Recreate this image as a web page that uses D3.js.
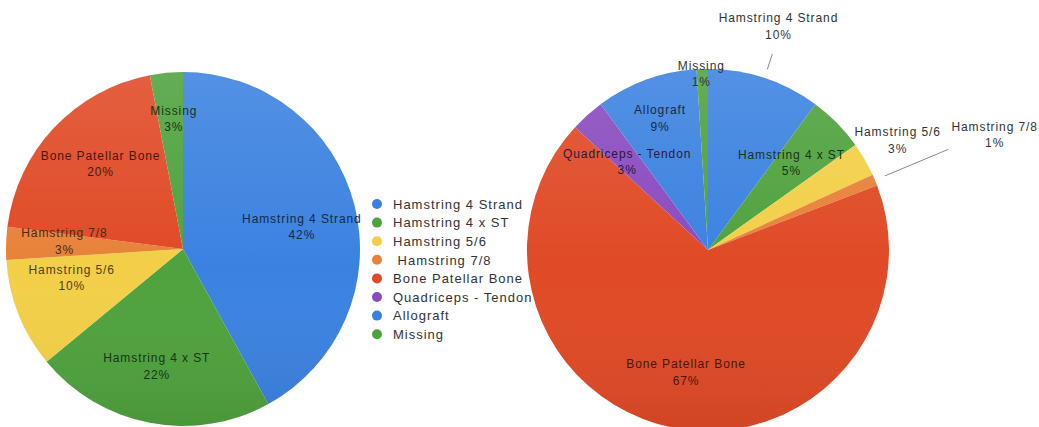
<!DOCTYPE html>
<html>
<head>
<meta charset="utf-8">
<script src="https://cdn.jsdelivr.net/npm/d3@7"></script>
<style>
  html, body { margin: 0; padding: 0; background: #ffffff; }
  svg { display: block; }
  text { font-family: "Liberation Sans", Arial, Helvetica, sans-serif; white-space: pre; }
</style>
</head>
<body>
<svg id="chart" width="1039" height="427"></svg>
<script>
// Graft types shared by both charts (legend order)
const categories = ["Hamstring 4 Strand", "Hamstring 4 x ST", "Hamstring 5/6", "Hamstring 7/8",
                    "Bone Patellar Bone", "Quadriceps - Tendon", "Allograft", "Missing"];
const legendLabels = ["Hamstring 4 Strand", "Hamstring 4 x ST", "Hamstring 5/6", " Hamstring 7/8",
                      "Bone Patellar Bone", "Quadriceps - Tendon", "Allograft", "Missing"];
const categoryColors = ["#3b82e0", "#4fa23e", "#f3cf48", "#e8823a",
                        "#e04a26", "#8a4bbf", "#3b82e0", "#4fa23e"];

// Left chart: percentage by graft type
const leftCategories = ["Hamstring 4 Strand", "Hamstring 4 x ST", "Hamstring 5/6", "Hamstring 7/8",
                        "Bone Patellar Bone", "Missing"];
const leftValues = [42, 22, 10, 3, 20, 3];

// Right chart: percentage by graft type
const rightCategories = ["Hamstring 4 Strand", "Hamstring 4 x ST", "Hamstring 5/6", "Hamstring 7/8",
                         "Bone Patellar Bone", "Quadriceps - Tendon", "Allograft", "Missing"];
const rightValues = [10, 5, 3, 1, 67, 3, 9, 1];

const color = d3.scaleOrdinal(categories, categoryColors);
const svg = d3.select("#chart");

// Shading over each pie: lighter at the top, slightly darker at the bottom
const defs = svg.append("defs");
const shade = defs.append("linearGradient")
  .attr("id", "shade").attr("x1", 0).attr("y1", 0).attr("x2", 0).attr("y2", 1);
shade.append("stop").attr("offset", "0%").attr("stop-color", "#ffffff").attr("stop-opacity", 0.12);
shade.append("stop").attr("offset", "55%").attr("stop-color", "#ffffff").attr("stop-opacity", 0);
shade.append("stop").attr("offset", "100%").attr("stop-color", "#000000").attr("stop-opacity", 0.07);

const pie = d3.pie().sort(null).value(d => d.value);

function drawPie(cfg) {
  const data = cfg.categories.map((c, i) => ({ category: c, value: cfg.values[i] }));
  const arcs = pie(data);
  const g = svg.append("g").attr("transform", `translate(${cfg.cx},${cfg.cy})`);
  const arc = d3.arc().innerRadius(0).outerRadius(cfg.r);

  g.selectAll("path.slice").data(arcs).join("path")
    .attr("class", "slice")
    .attr("d", arc)
    .attr("fill", d => color(d.data.category));

  g.append("circle").attr("r", cfg.r).attr("fill", "url(#shade)");

  const polar = (angle, rad) => [Math.sin(angle) * rad, -Math.cos(angle) * rad];
  const mid = d => (d.startAngle + d.endAngle) / 2;

  // Leader lines for labels placed outside the pie
  arcs.forEach((d, i) => {
    const lead = cfg.leaders[i];
    if (!lead) return;
    const p0 = polar(mid(d), cfg.r * lead[0]);
    const p1 = polar(mid(d), cfg.r * lead[1]);
    g.append("line")
      .attr("x1", p0[0]).attr("y1", p0[1]).attr("x2", p1[0]).attr("y2", p1[1])
      .attr("stroke", "#8a8a8a").attr("stroke-width", 1);
  });

  const labels = g.selectAll("text.lbl").data(arcs).join("text")
    .attr("class", "lbl")
    .attr("text-anchor", "middle")
    .attr("font-size", 12)
    .attr("letter-spacing", "0.9px")
    .attr("fill", (d, i) => cfg.radius[i] > 1 || cfg.plainText[i]
      ? "#333333" : d3.color(color(d.data.category)).darker(3.2).formatHex())
    .attr("transform", (d, i) => {
      const p = polar(mid(d), cfg.r * cfg.radius[i]);
      const n = cfg.nudge[i];
      return `translate(${p[0] + n[0]},${p[1] + n[1]})`;
    });
  labels.append("tspan").attr("x", 0).attr("y", -4).text(d => d.data.category);
  labels.append("tspan").attr("x", 0).attr("y", 12.5)
    .text(d => `${d.data.value}%`);
}

// Legend between the two charts
const legend = svg.append("g").attr("transform", "translate(377,204)");
const rowStep = 18.6;
legend.selectAll("circle").data(categories).join("circle")
  .attr("cx", 0).attr("cy", (d, i) => i * rowStep)
  .attr("r", 5)
  .attr("fill", d => color(d));
legend.selectAll("text").data(legendLabels).join("text")
  .attr("x", 16).attr("y", (d, i) => i * rowStep + 4.7)
  .attr("font-size", 13)
  .attr("letter-spacing", "1px")
  .attr("fill", "#333333")
  .text(d => d);

drawPie({
  categories: leftCategories, values: leftValues,
  cx: 183, cy: 249, r: 177,
  radius: [0.67, 0.67, 0.67, 0.67, 0.67, 0.67],
  nudge: [[4, 7], [-4, 1], [-1, -15], [0, -4], [4, -4], [2, -12]],
  leaders: [null, null, null, null, null, null],
  plainText: [false, false, false, false, false, false]
});

drawPie({
  categories: rightCategories, values: rightValues,
  cx: 708, cy: 250, r: 181,
  radius: [1.3, 0.67, 1.21, 1.705, 0.67, 0.67, 0.775, 0.99],
  nudge: [[-3, 0], [-3, -2], [0, 0], [2, 4], [1, 3], [0, 2], [0, 0], [-1, 3]],
  leaders: [[1.05, 1.14], null, null, [1.06, 1.44], null, null, null, null],
  plainText: [false, false, false, false, false, false, false, true]
});
</script>
</body>
</html>
